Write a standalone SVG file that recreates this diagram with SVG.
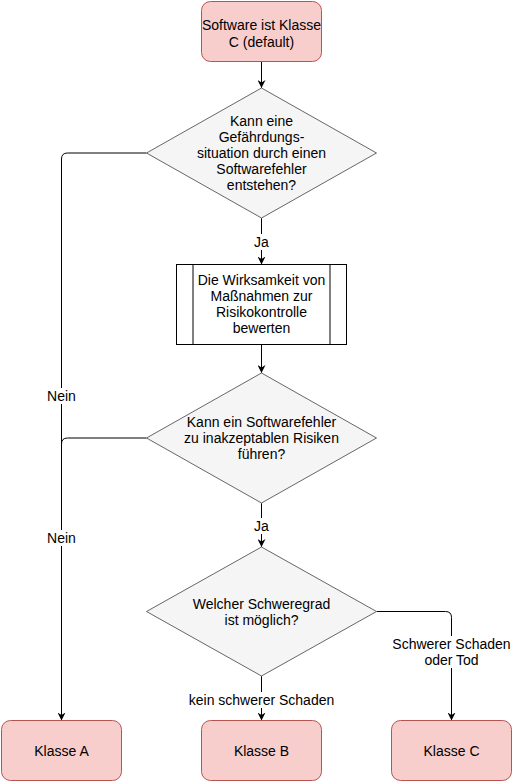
<svg xmlns="http://www.w3.org/2000/svg" width="513" height="782" viewBox="0 0 513 782">
<style>
text{font-family:"Liberation Sans",Arial,sans-serif;font-size:14px;fill:#000;text-anchor:middle}
.term{fill:#f8cecc;stroke:#b85450;stroke-width:1}
.dec{fill:#f5f5f5;stroke:#666666;stroke-width:1}
.proc{fill:#ffffff;stroke:#000000;stroke-width:1}
.edge{fill:none;stroke:#000;stroke-width:1}
.lblbg{fill:#ffffff}
</style>
<defs>
<marker id="arr" viewBox="0 0 10 10" refX="10" refY="5" markerWidth="8" markerHeight="8" markerUnits="userSpaceOnUse" orient="auto">
<path d="M0,0 L10,5 L0,10 L3,5 z" fill="#000"/>
</marker>
</defs>
<rect width="513" height="782" fill="#ffffff"/>
<g id="connectors">
<path class="edge" d="M261.5,61.5 V88" marker-end="url(#arr)"/>
<path class="edge" d="M261.5,218 V264.5" marker-end="url(#arr)"/>
<path class="edge" d="M261.5,344.5 V373" marker-end="url(#arr)"/>
<path class="edge" d="M261.5,503 V547" marker-end="url(#arr)"/>
<path class="edge" d="M261.5,676 V720.5" marker-end="url(#arr)"/>
<path class="edge" d="M146.5,153 H67.5 Q61.5,153 61.5,159 V720.5" marker-end="url(#arr)"/>
<path class="edge" d="M146.5,438 H67.5 Q61.5,438 61.5,444"/>
<path class="edge" d="M376.5,611.5 H445.5 Q451.5,611.5 451.5,617.5 V720.5" marker-end="url(#arr)"/>
<rect class="lblbg" x="252" y="234" width="19" height="16"/>
<text x="261.5" y="247">Ja</text>
<rect class="lblbg" x="252" y="518" width="19" height="16"/>
<text x="261.5" y="531">Ja</text>
<rect class="lblbg" x="46" y="388" width="31" height="16"/>
<text x="61.5" y="401">Nein</text>
<rect class="lblbg" x="46" y="530" width="31" height="16"/>
<text x="61.5" y="543">Nein</text>
<rect class="lblbg" x="187" y="692" width="149" height="16"/>
<text x="261.5" y="705">kein schwerer Schaden</text>
<rect class="lblbg" x="392" y="636" width="120" height="32"/>
<text x="451.5" y="649">Schwerer Schaden</text>
<text x="451.5" y="665">oder Tod</text>
</g>
<g id="start">
<rect class="term" x="201.5" y="1.5" width="120" height="60" rx="9" ry="9"/>
<text x="261.5" y="30">Software ist Klasse</text>
<text x="261.5" y="47">C (default)</text>
</g>
<g id="decision1">
<polygon class="dec" points="261.5,88 376.5,153 261.5,218 146.5,153"/>
<text x="261.5" y="126">Kann eine</text>
<text x="261.5" y="142">Gefährdungs-</text>
<text x="261.5" y="158">situation durch einen</text>
<text x="261.5" y="174">Softwarefehler</text>
<text x="261.5" y="190">entstehen?</text>
</g>
<g id="process">
<rect class="proc" x="176.5" y="264.5" width="170" height="80"/>
<line class="proc" x1="193" y1="264.5" x2="193" y2="344.5"/>
<line class="proc" x1="330" y1="264.5" x2="330" y2="344.5"/>
<text x="261.5" y="285">Die Wirksamkeit von</text>
<text x="261.5" y="301">Maßnahmen zur</text>
<text x="261.5" y="317">Risikokontrolle</text>
<text x="261.5" y="333">bewerten</text>
</g>
<g id="decision2">
<polygon class="dec" points="261.5,373 376.5,438 261.5,503 146.5,438"/>
<text x="261.5" y="427">Kann ein Softwarefehler</text>
<text x="261.5" y="443">zu inakzeptablen Risiken</text>
<text x="261.5" y="459">führen?</text>
</g>
<g id="decision3">
<polygon class="dec" points="261.5,547 376.5,611.5 261.5,676 146.5,611.5"/>
<text x="261.5" y="609">Welcher Schweregrad</text>
<text x="261.5" y="625">ist möglich?</text>
</g>
<g id="klasseA">
<rect class="term" x="1.5" y="720.5" width="120" height="60" rx="9" ry="9"/>
<text x="61.5" y="756">Klasse A</text>
</g>
<g id="klasseB">
<rect class="term" x="201.5" y="720.5" width="120" height="60" rx="9" ry="9"/>
<text x="261.5" y="756">Klasse B</text>
</g>
<g id="klasseC">
<rect class="term" x="391.5" y="720.5" width="120" height="60" rx="9" ry="9"/>
<text x="451.5" y="756">Klasse C</text>
</g>
</svg>
